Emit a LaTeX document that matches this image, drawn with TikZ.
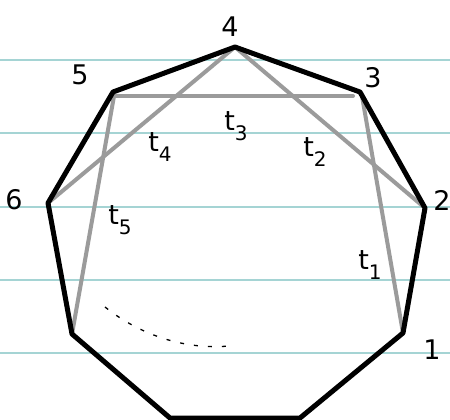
\documentclass[tikz,border=0pt]{standalone}
\usepackage{fontspec}
\setmainfont{DejaVu Sans}
\definecolor{rulecol}{RGB}{165,212,212}
\definecolor{chordcol}{RGB}{155,155,155}
\newcommand{\tsub}[1]{t\raisebox{-0.35em}{\fontsize{20}{20}\selectfont #1}}
\begin{document}
\begin{tikzpicture}[x=1pt,y=-1pt,
  rule/.style={draw=rulecol, line width=1.2pt},
  edge/.style={draw=black, line width=5pt, line join=round},
  chord/.style={draw=chordcol, line width=4pt, line cap=round},
  tlab/.style={font=\fontsize{27}{27}\selectfont, inner sep=0pt}]
\useasboundingbox (0,0) rectangle (450,420);
\fill[white] (0,0) rectangle (450,420);
% ruled lines
\foreach \yy in {60,133,207,280,353} \draw[rule] (0,\yy) -- (450,\yy);
% vertices
\coordinate (v4) at (235,47);
\coordinate (v3) at (360,92);
\coordinate (v2) at (425,208);
\coordinate (v1) at (403,333);
\coordinate (vb1) at (300,418);
\coordinate (vb2) at (170,418);
\coordinate (v7) at (72,334);
\coordinate (v6) at (48,203);
\coordinate (v5) at (113,92);
% chords
\coordinate (c5) at (114,96);
\coordinate (c3) at (353,96);
\coordinate (c3b) at (362,96);
\draw[chord] (v4) -- (v6);
\draw[chord] (v4) -- (v2);
\draw[chord] (c5) -- (c3);
\draw[chord] (c5) -- (v7);
\draw[chord] (c3b) -- (v1);
% polygon
\draw[edge] (v4) -- (v3) -- (v2) -- (v1) -- (vb1) -- (vb2) -- (v7) -- (v6) -- (v5) -- cycle;
% dashed arc
\coordinate (d1) at (105,307);
\coordinate (d2) at (229,346);
\draw[black, line width=1.3pt, dash pattern=on 4pt off 10pt] (d1) .. controls (140,335) and (185,350) .. (d2);
% vertex labels
\node[tlab] (l4) at (230,27) {4};
\node[tlab] (l5) at (80,75) {5};
\node[tlab] (l3) at (373,78) {3};
\node[tlab] (l6) at (14,200) {6};
\node[tlab] (l2) at (442,200) {2};
\node[tlab] (l1) at (432,350) {1};
% chord labels
\node[tlab] (t3) at (236,126) {\tsub{3}};
\node[tlab] (t4) at (160,147) {\tsub{4}};
\node[tlab] (t2) at (315,152) {\tsub{2}};
\node[tlab] (t5) at (120,220) {\tsub{5}};
\node[tlab] (t1) at (370,265) {\tsub{1}};
\end{tikzpicture}
\end{document}
